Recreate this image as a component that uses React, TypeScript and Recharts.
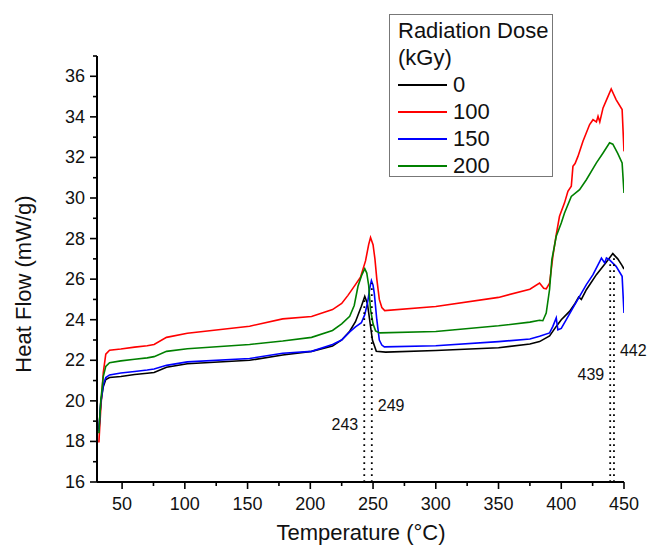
import * as React from "react";
import {
  Label,
  Legend,
  Line,
  LineChart,
  ReferenceDot,
  ReferenceLine,
  XAxis,
  YAxis,
} from "recharts";

// DSC heat flow curves per radiation dose, [temperature °C, heat flow mW/g]
const dose0: [number, number][] = [
  [31.5, 18.6], [33, 19.9], [35, 20.7], [37, 21.05], [40, 21.15], [49, 21.2], [60, 21.3],
  [70, 21.36], [75.5, 21.4], [85.4, 21.66], [102, 21.83], [151.6, 22.0], [178, 22.26],
  [201, 22.44], [217.7, 22.7], [225, 23.0], [231.4, 23.43], [236, 23.9], [240.7, 24.66],
  [243.4, 25.15], [245.5, 24.8], [247.5, 23.9], [249.5, 23.0], [252.6, 22.44], [260, 22.4],
  [300, 22.48], [350, 22.62], [375, 22.8], [382.7, 22.92], [390.7, 23.2], [396, 23.67],
  [400, 24.0], [406.6, 24.41], [411, 24.8], [413.9, 25.12], [416, 25.0], [420, 25.48],
  [428, 26.22], [436, 26.85], [441.1, 27.26], [445, 27.0], [448.5, 26.67], [450, 26.5],
];

const dose100: [number, number][] = [
  [31.5, 17.95], [33, 19.6], [35, 21.4], [37, 22.3], [40, 22.5], [49, 22.56], [60, 22.65],
  [70, 22.72], [75.5, 22.78], [85.4, 23.13], [102, 23.33], [151.6, 23.68], [178, 24.04],
  [201, 24.16], [217.7, 24.5], [225, 24.8], [230, 25.2], [235.4, 25.68], [240, 26.1],
  [244, 26.9], [246.5, 27.7], [248, 28.05], [250, 27.7], [251.5, 27.0], [253, 26.0],
  [255, 25.0], [257, 24.6], [259.3, 24.45], [300, 24.65], [350, 25.1], [375, 25.5],
  [382.7, 25.81], [386, 25.55], [388, 25.52], [390.7, 25.8], [393.3, 27.12], [396, 28.2],
  [398.6, 29.1], [402.6, 29.76], [405.3, 30.33], [408, 30.58], [409.3, 31.56], [411, 31.7],
  [413.3, 32.05], [417.3, 32.8], [422.6, 33.62], [425.3, 33.86], [428, 33.75], [429.3, 34.03],
  [430.7, 33.75], [433.3, 34.44], [436.5, 34.9], [439.8, 35.38], [443.7, 34.85],
  [448.5, 34.36], [450, 32.3],
];

const dose150: [number, number][] = [
  [31.5, 18.5], [33, 19.9], [35, 20.8], [37, 21.15], [40, 21.28], [49, 21.37], [60, 21.45],
  [70, 21.52], [75.5, 21.57], [85.4, 21.75], [102, 21.92], [151.6, 22.09], [178, 22.35],
  [201, 22.44], [217.7, 22.78], [225, 23.0], [231.4, 23.4], [236, 23.65], [240.7, 23.85],
  [243.4, 24.25], [245.8, 24.9], [247.5, 25.6], [248.7, 25.93], [250, 25.7], [251, 25.3],
  [253, 24.0], [255, 23.0], [257, 22.75], [259, 22.66], [300, 22.72], [350, 22.92],
  [375, 23.05], [382.7, 23.18], [390.7, 23.35], [393.3, 23.67], [396, 24.09], [397.3, 23.5],
  [400, 23.57], [404, 24.0], [409.3, 24.58], [414.6, 25.15], [420, 25.73], [425.3, 26.22],
  [430.7, 26.88], [432, 27.04], [434.6, 26.8], [436, 27.04], [438.5, 26.95], [443.7, 26.63],
  [448.5, 26.14], [450, 24.33],
];

const dose200: [number, number][] = [
  [31.5, 18.4], [33, 20.0], [35, 21.2], [37, 21.7], [40, 21.88], [49, 21.97], [60, 22.05],
  [70, 22.12], [75.5, 22.18], [85.4, 22.44], [102, 22.57], [151.6, 22.78], [178, 22.95],
  [201, 23.13], [217.7, 23.47], [225, 23.8], [231.4, 24.17], [235, 24.7], [238, 25.65],
  [241, 26.2], [243.4, 26.52], [245, 26.3], [246.5, 25.7], [248, 24.5], [250, 23.8],
  [252, 23.45], [255.3, 23.35], [300, 23.42], [350, 23.7], [375, 23.88], [382.7, 23.97],
  [385.3, 23.95], [388, 24.33], [390.7, 25.5], [392.5, 26.96], [396, 28.11], [400, 28.77],
  [402.6, 29.26], [408, 30.08], [414.6, 30.41], [420, 30.9], [428, 31.73], [433.3, 32.22],
  [438.5, 32.72], [441.1, 32.65], [445, 32.2], [448.5, 31.73], [450, 30.25],
];

const series = [
  { name: "0", color: "#000000", points: dose0 },
  { name: "100", color: "#ff0000", points: dose100 },
  { name: "150", color: "#0000ff", points: dose150 },
  { name: "200", color: "#008000", points: dose200 },
];

// peak temperatures marked with dotted drop lines
const peakMarks: { t: number; top: number; labelY: number; side: "left" | "right" }[] = [
  { t: 243, top: 25.1, labelY: 18.85, side: "left" },
  { t: 249, top: 25.8, labelY: 19.8, side: "right" },
  { t: 439, top: 26.9, labelY: 21.3, side: "left" },
  { t: 442, top: 27.2, labelY: 22.5, side: "right" },
];

const xTicks = [50, 75, 100, 125, 150, 175, 200, 225, 250, 275, 300, 325, 350, 375, 400, 425, 450];
const yTicks = [16, 17, 18, 19, 20, 21, 22, 23, 24, 25, 26, 27, 28, 29, 30, 31, 32, 33, 34, 35, 36, 37];

const FONT = "'Liberation Sans', Arial, sans-serif";

function YTick(props: any) {
  const { x, y, payload } = props;
  const v = payload.value as number;
  const major = v % 2 === 0;
  return (
    <g>
      <line x1={x - (major ? 7 : 4)} x2={x} y1={y} y2={y} stroke="#000" strokeWidth={1.6} />
      {major && (
        <text x={x - 12} y={y} dy={6} textAnchor="end" fontSize={18} fontFamily={FONT} fill="#111">
          {v}
        </text>
      )}
    </g>
  );
}

function XTick(props: any) {
  const { x, y, payload } = props;
  const v = payload.value as number;
  const major = v % 50 === 0;
  return (
    <g>
      <line x1={x} x2={x} y1={y} y2={y + (major ? 7 : 4)} stroke="#000" strokeWidth={1.6} />
      {major && (
        <text x={x} y={y + 28} textAnchor="middle" fontSize={18} fontFamily={FONT} fill="#111">
          {v}
        </text>
      )}
    </g>
  );
}

function DoseLegend() {
  return (
    <div
      style={{
        border: "1px solid #777",
        background: "#fff",
        width: 164,
        height: 163,
        boxSizing: "border-box",
        padding: "2px 0 0 8px",
        fontFamily: FONT,
        fontSize: 22,
        color: "#111",
        lineHeight: "27px",
      }}
    >
      <div>Radiation Dose</div>
      <div>(kGy)</div>
      {series.map((s) => (
        <div key={s.name} style={{ display: "flex", alignItems: "center" }}>
          <span style={{ display: "inline-block", width: 49, height: 0, borderTop: `2px solid ${s.color}`, marginRight: 6 }} />
          <span>{s.name}</span>
        </div>
      ))}
    </div>
  );
}

export default function App() {
  return (
    <div style={{ position: "absolute", left: 0, top: 0, width: 650, height: 547, background: "#fff" }}>
      <LineChart width={650} height={547} margin={{ top: 56, right: 26, bottom: 0, left: 0 }}>
        <XAxis
          type="number"
          dataKey="x"
          domain={[30, 450]}
          ticks={xTicks}
          interval={0}
          allowDataOverflow
          height={65}
          tickSize={0}
          tickMargin={0}
          tickLine={false}
          tick={<XTick />}
          axisLine={{ stroke: "#000", strokeWidth: 2 }}
        >
          <Label
            content={() => (
              <text x={361} y={540} textAnchor="middle" fontSize={22} fontFamily={FONT} fill="#111">
                Temperature (°C)
              </text>
            )}
          />
        </XAxis>
        <YAxis
          type="number"
          dataKey="y"
          domain={[16, 37]}
          ticks={yTicks}
          interval={0}
          allowDataOverflow
          width={97}
          tickSize={0}
          tickMargin={0}
          tickLine={false}
          tick={<YTick />}
          axisLine={{ stroke: "#000", strokeWidth: 2 }}
        >
          <Label
            content={() => (
              <text
                x={31}
                y={284}
                transform="rotate(-90 31 284)"
                textAnchor="middle"
                fontSize={22}
                fontFamily={FONT}
                fill="#111"
              >
                Heat Flow (mW/g)
              </text>
            )}
          />
        </YAxis>
        {series.map((s) => (
          <Line
            key={s.name}
            data={s.points.map(([x, y]) => ({ x, y }))}
            dataKey="y"
            name={s.name}
            type="linear"
            stroke={s.color}
            strokeWidth={1.6}
            dot={false}
            activeDot={false}
            isAnimationActive={false}
          />
        ))}
        {peakMarks.map((m) => (
          <ReferenceLine
            key={`l${m.t}`}
            segment={[{ x: m.t, y: 16 }, { x: m.t, y: m.top }]}
            stroke="#000"
            strokeWidth={1.8}
            strokeDasharray="1.8 4.2"
          />
        ))}
        {peakMarks.map((m) => (
          <ReferenceDot
            key={`d${m.t}`}
            x={m.t}
            y={m.labelY}
            r={0}
            fill="none"
            stroke="none"
            label={{
              value: String(m.t),
              position: m.side,
              offset: 6,
              fontSize: 16,
              fontFamily: FONT,
              fill: "#111",
            }}
          />
        ))}
        <Legend
          layout="vertical"
          align="center"
          verticalAlign="middle"
          content={<DoseLegend />}
          wrapperStyle={{ left: 389, top: 14, width: 164, height: 163 }}
        />
      </LineChart>
    </div>
  );
}
